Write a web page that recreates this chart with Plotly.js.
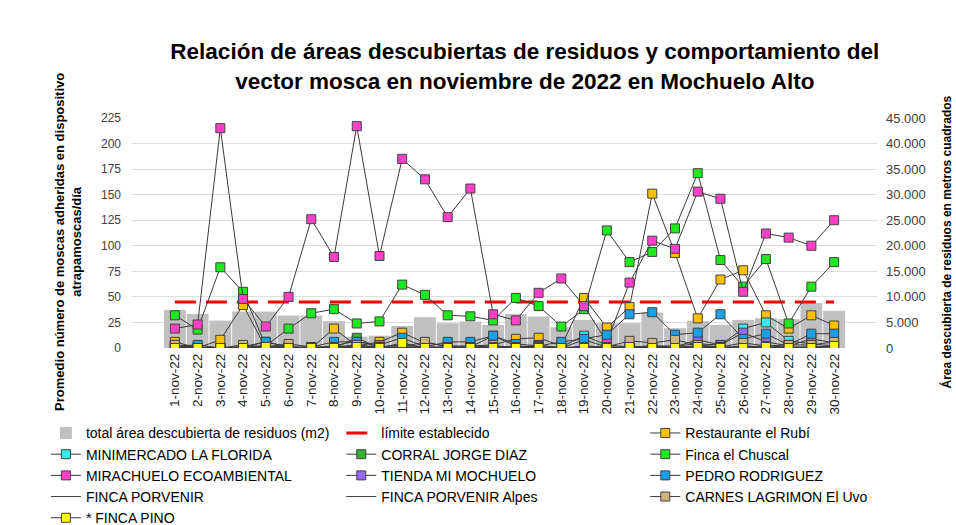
<!DOCTYPE html>
<html>
<head>
<meta charset="utf-8">
<script src="https://cdn.plot.ly/plotly-3.0.1.min.js"></script>
<style>
  body { margin: 0; background: #fff; }
  #plot { width: 956px; height: 525px; }
</style>
</head>
<body>
<div id="plot"></div>
<script>
// Days of November 2022
var days = ["1-nov-22", "2-nov-22", "3-nov-22", "4-nov-22", "5-nov-22", "6-nov-22", "7-nov-22", "8-nov-22", "9-nov-22", "10-nov-22",
  "11-nov-22", "12-nov-22", "13-nov-22", "14-nov-22", "15-nov-22", "16-nov-22", "17-nov-22", "18-nov-22", "19-nov-22", "20-nov-22",
  "21-nov-22", "22-nov-22", "23-nov-22", "24-nov-22", "25-nov-22", "26-nov-22", "27-nov-22", "28-nov-22", "29-nov-22", "30-nov-22"];

// total uncovered waste area (m2), right axis
var area = [7470, 6680, 5360, 7130, 7130, 6350, 6350, 5250, 2220, 2420, 4320, 6030, 4850, 5170, 4520, 6680, 6150, 4060, 5500, 4850,
  4850, 6940, 3870, 5300, 4520, 5500, 5830, 5640, 8780, 7270];

// established limit
var limite = [45, 45, 45, 45, 45, 45, 45, 45, 45, 45, 45, 45, 45, 45, 45, 45, 45, 45, 45, 45, 45, 45, 45, 45, 45, 45, 45, 45, 45, 45];

// average flies per trap per day, left axis
var rubi = [6, 0, 8, 42, 0, 1, 0, 19, 2, 6, 15, 5, 2, 2, 3, 9, 10, 2, 49, 20, 40, 151, 93, 29, 67, 76, 32, 19, 32, 22];
var minimercado = [1, 1, 0, 1, 6, 1, 0, 2, 7, 1, 3, 1, 1, 1, 12, 2, 1, 1, 12, 3, 1, 2, 2, 4, 3, 19, 25, 7, 4, 2];
var corral = [3, 0, 0, 0, 0, 0, 0, 0, 10, 0, 0, 0, 0, 0, 0, 0, 0, 0, 0, 0, 0, 0, 0, 0, 0, 0, 0, 0, 0, 0];
var chuscal = [32, 18, 79, 55, 2, 19, 34, 38, 24, 26, 62, 52, 32, 31, 27, 49, 41, 21, 38, 115, 84, 94, 117, 171, 86, 60, 87, 24, 60, 84];
var mirachuelo = [19, 23, 215, 48, 21, 50, 126, 89, 217, 90, 185, 165, 128, 156, 33, 27, 54, 68, 41, 6, 64, 105, 97, 153, 146, 55, 112, 108, 100, 125];
var tienda = [0, 0, 0, 0, 0, 0, 0, 0, 0, 0, 1, 0, 0, 0, 1, 0, 3, 0, 8, 1, 0, 1, 1, 8, 3, 15, 6, 2, 9, 5];
var pedro = [2, 3, 0, 1, 6, 1, 1, 6, 6, 3, 10, 1, 6, 6, 12, 4, 2, 6, 9, 13, 33, 35, 13, 15, 33, 9, 14, 3, 14, 14];
var porvenir = [1, 0, 0, 1, 2, 1, 0, 1, 2, 0, 1, 1, 0, 1, 2, 1, 0, 0, 2, 1, 1, 2, 1, 2, 1, 1, 2, 1, 1, 2];
var porvenirAlpes = [0, 1, 0, 0, 1, 0, 1, 0, 1, 1, 0, 0, 1, 0, 1, 0, 1, 0, 1, 0, 0, 1, 0, 1, 0, 2, 1, 0, 1, 1];
var carnes = [3, 0, 0, 3, 1, 4, 1, 1, 3, 1, 1, 6, 1, 1, 1, 1, 1, 0, 1, 1, 7, 5, 8, 3, 1, 5, 2, 3, 3, 6];
var pino = [0, 0, 0, 0, 1, 0, 0, 0, 1, 0, 5, 0, 0, 0, 0, 0, 0, 0, 0, 0, 1, 0, 0, 1, 0, 0, 1, 0, 0, 2];

var sans = "Liberation Sans, Arial, sans-serif";

// helper for the marker + line traces
function siteTrace(name, values, color, legendId) {
  return {
    x: days,
    y: values,
    name: name,
    type: "scatter",
    mode: "lines+markers",
    yaxis: "y2",
    legend: legendId,
    line: { color: "#3a3a3a", width: 1 },
    marker: { symbol: "square", size: 9, color: color, line: { color: "#404040", width: 1 } }
  };
}

var barTrace = {
  x: days,
  y: area,
  name: "total área descubierta de residuos (m2)",
  type: "bar",
  legend: "legend",
  marker: { color: "#c0c0c0" }
};

var limitTrace = {
  x: days,
  y: limite,
  name: "límite establecido",
  type: "scatter",
  mode: "lines",
  yaxis: "y2",
  legend: "legend2",
  line: { color: "#ff0000", width: 3, dash: "21px,10px" }
};

var data = [
  barTrace,
  limitTrace,
  siteTrace("Restaurante el Rubí", rubi, "#ffc000", "legend3"),
  siteTrace("MINIMERCADO LA FLORIDA", minimercado, "#33f0f0", "legend"),
  siteTrace("CORRAL JORGE DIAZ", corral, "#33b233", "legend2"),
  siteTrace("Finca el Chuscal", chuscal, "#1ee81e", "legend3"),
  siteTrace("MIRACHUELO ECOAMBIENTAL", mirachuelo, "#ff3fc8", "legend"),
  siteTrace("TIENDA MI MOCHUELO", tienda, "#9966ff", "legend2"),
  siteTrace("PEDRO RODRIGUEZ", pedro, "#1aa0e6", "legend3"),
  { x: days, y: porvenir, name: "FINCA PORVENIR", type: "scatter", mode: "lines", yaxis: "y2", legend: "legend",
    line: { color: "#3a3a3a", width: 1 } },
  { x: days, y: porvenirAlpes, name: "FINCA PORVENIR Alpes", type: "scatter", mode: "lines", yaxis: "y2", legend: "legend2",
    line: { color: "#3a3a3a", width: 1 } },
  siteTrace("CARNES LAGRIMON El Uvo", carnes, "#d2b47e", "legend3"),
  siteTrace("* FINCA PINO", pino, "#ffff00", "legend")
];

// one vertical legend per column, like the original three-column key
function legendColumn(x) {
  return {
    orientation: "v",
    xref: "container",
    yref: "container",
    x: x,
    xanchor: "left",
    y: 0.205,
    yanchor: "top",
    traceorder: "normal",
    font: { family: sans, size: 14, color: "#000000" },
    itemwidth: 30,
    bgcolor: "rgba(0,0,0,0)"
  };
}

var layout = {
  width: 956,
  height: 525,
  paper_bgcolor: "#ffffff",
  plot_bgcolor: "#ffffff",
  separators: ",.",
  margin: { l: 132, r: 79, t: 118, b: 177, autoexpand: false },
  bargap: 0.04,
  font: { family: sans, color: "#404040", size: 12 },
  title: {
    text: "Relación de áreas descubiertas de residuos y comportamiento del<br>vector mosca en noviembre de 2022 en Mochuelo Alto",
    font: { family: sans, size: 22.5, color: "#000000", weight: "bold" },
    x: 0.549,
    xanchor: "center",
    y: 0.887,
    yanchor: "top"
  },
  xaxis: {
    type: "category",
    tickangle: -90,
    tickfont: { family: sans, size: 13.5, color: "#202020" },
    ticklabelstandoff: 2,
    showgrid: false,
    showline: false,
    ticks: ""
  },
  yaxis: {
    side: "right",
    range: [0, 45000],
    dtick: 5000,
    tickformat: ",.0f",
    tickfont: { family: sans, size: 13, color: "#404040" },
    ticklabelstandoff: 8,
    gridcolor: "#dddddd",
    zeroline: false,
    showline: false
  },
  yaxis2: {
    overlaying: "y",
    side: "left",
    range: [0, 225],
    dtick: 25,
    showgrid: false,
    zeroline: false,
    showline: false,
    tickfont: { family: sans, size: 12, color: "#404040" },
    ticklabelstandoff: 10
  },
  // axis titles as rotated annotations
  annotations: [
    {
      text: "<b>Promedio número de moscas adheridas en dispositivo<br>atrapamoscas/día</b>",
      xref: "paper", yref: "paper",
      x: -0.085, y: 0.46,
      xanchor: "center", yanchor: "middle",
      textangle: -90,
      showarrow: false,
      font: { family: sans, size: 13, color: "#000000" }
    },
    {
      text: "<b>Área descubierta de residuos en metros cuadrados</b>",
      xref: "paper", yref: "paper",
      x: 1.093, y: 0.46,
      xanchor: "center", yanchor: "middle",
      textangle: -90,
      showarrow: false,
      font: { family: sans, size: 12, color: "#000000" }
    }
  ],
  legend: legendColumn(0.048),
  legend2: legendColumn(0.357),
  legend3: legendColumn(0.675),
  showlegend: true
};

Plotly.newPlot("plot", data, layout, { displayModeBar: false, staticPlot: true });
</script>
</body>
</html>
